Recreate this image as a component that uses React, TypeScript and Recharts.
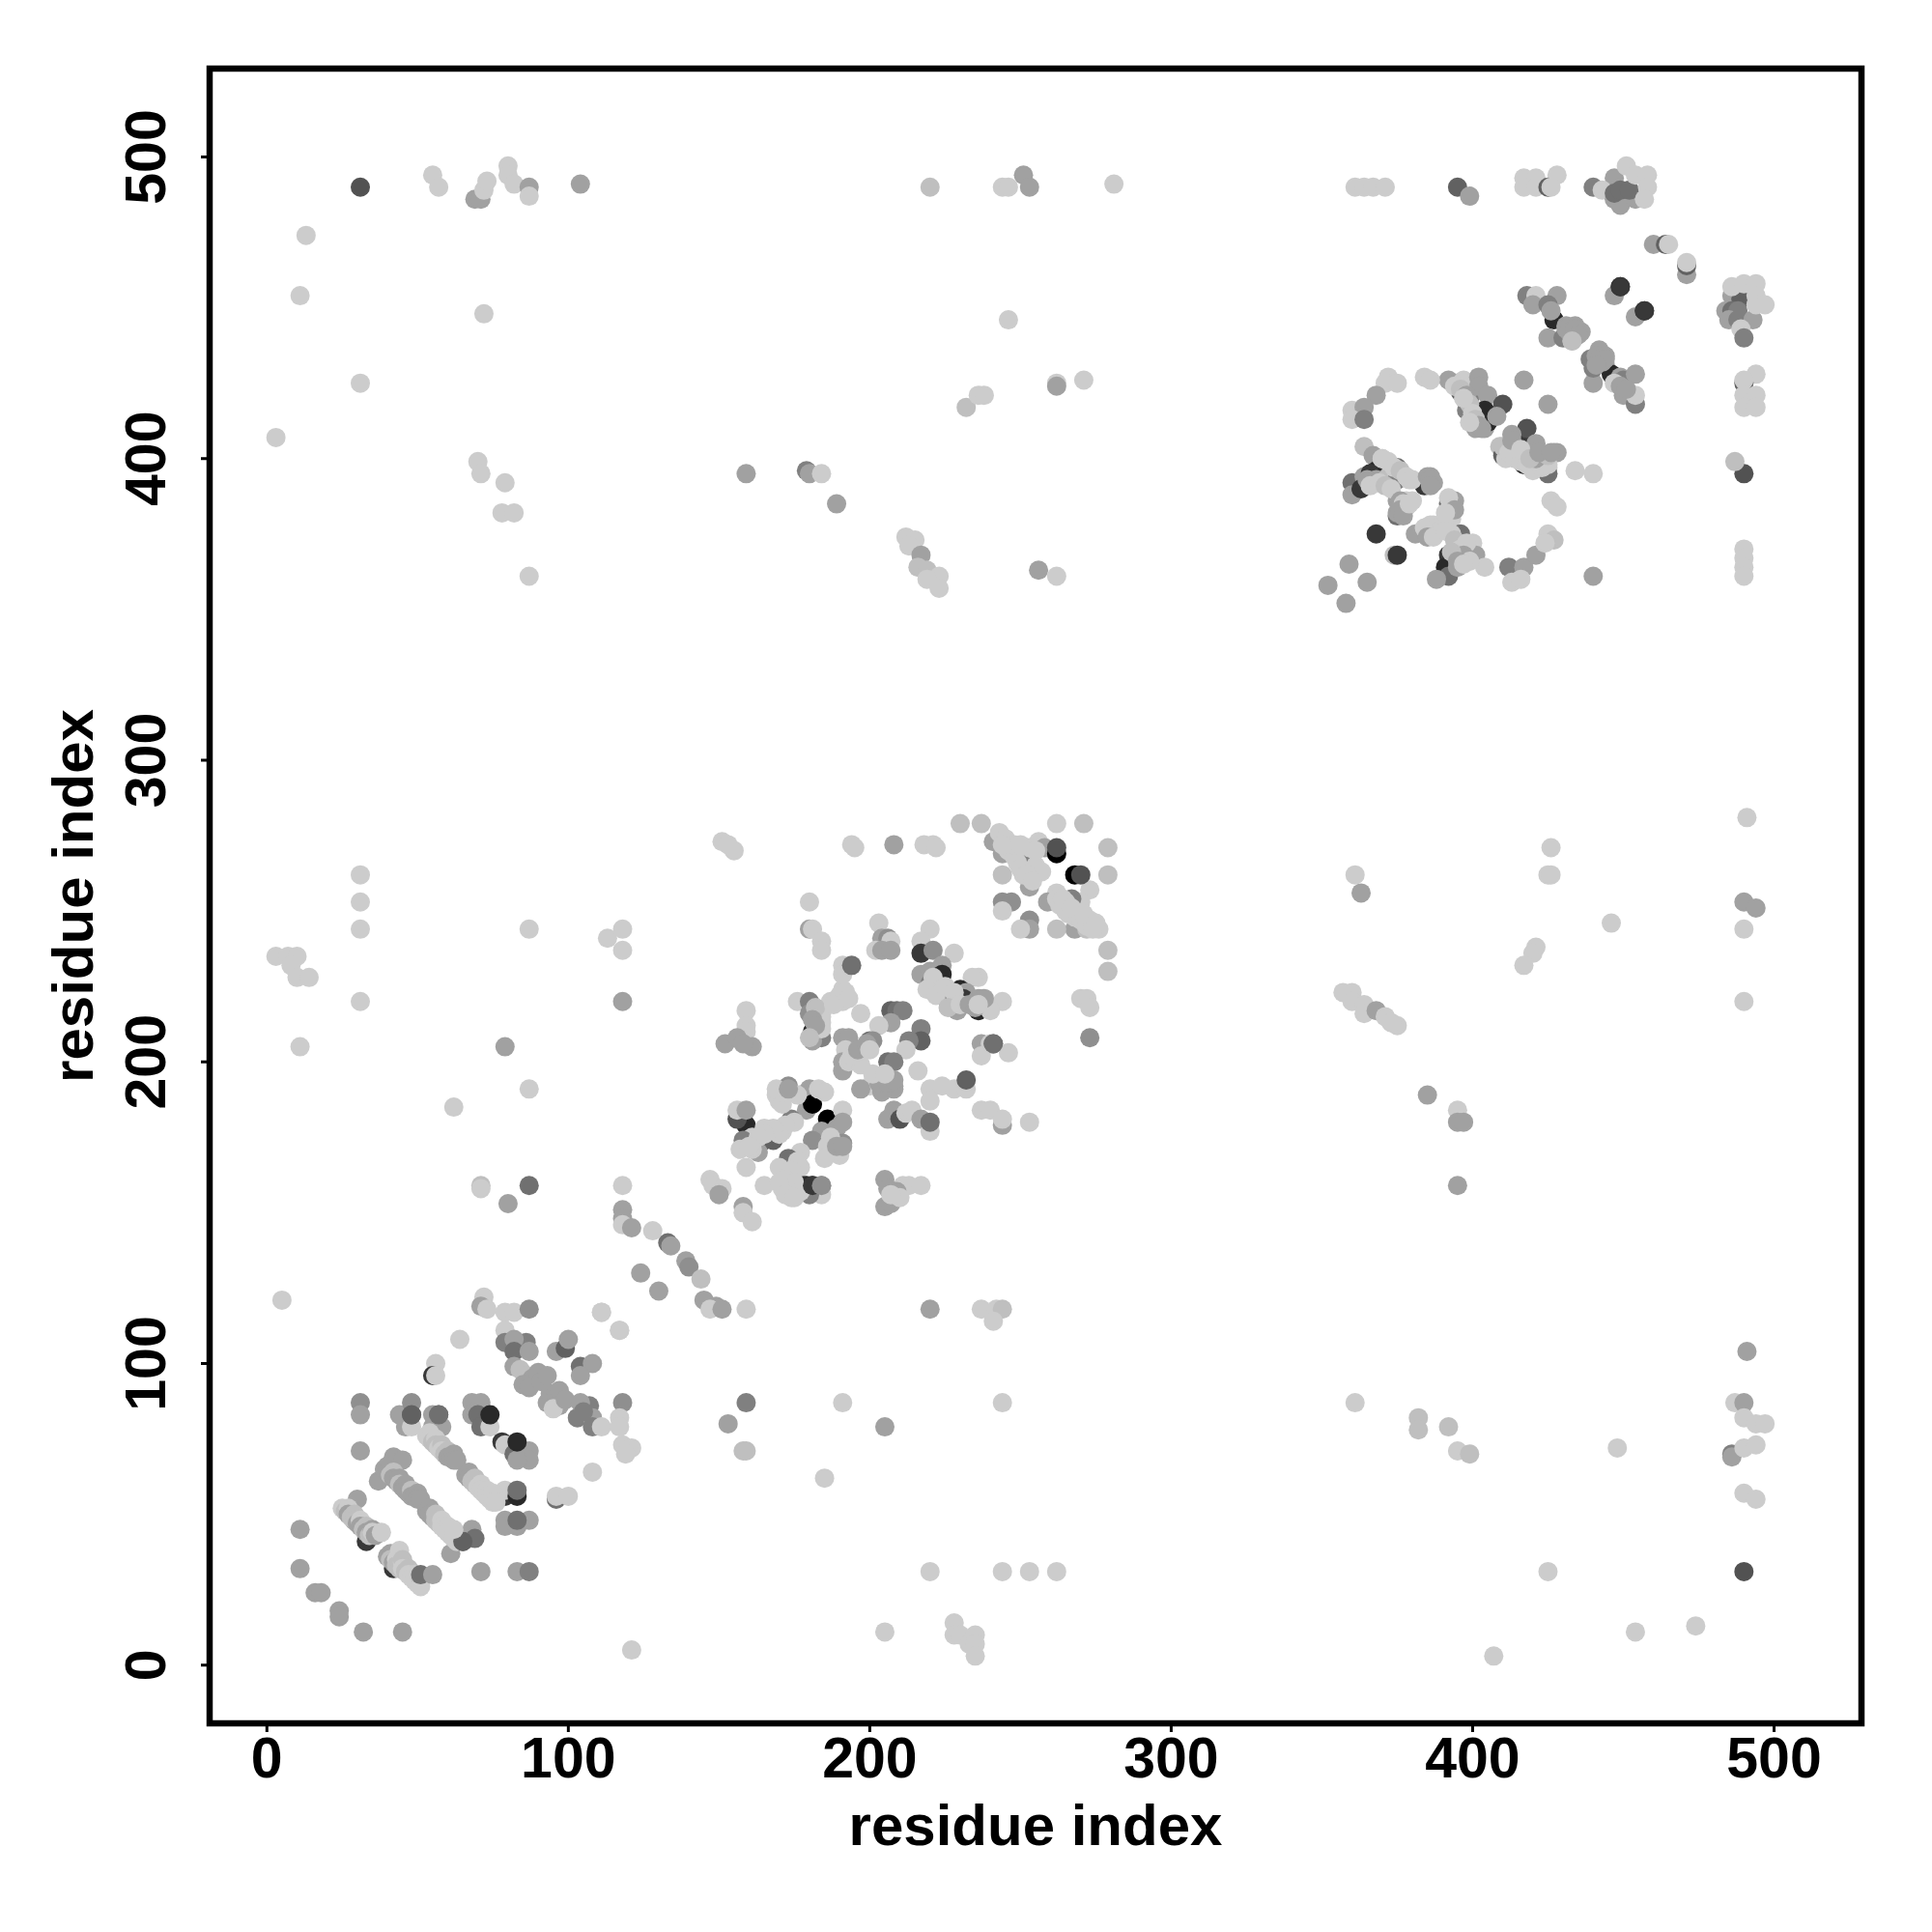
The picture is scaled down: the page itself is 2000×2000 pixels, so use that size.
import { ReferenceArea, Scatter, ScatterChart, XAxis, YAxis } from 'recharts'

type Contact = [number, number, number]

// contact strength, darker marks are stronger
const L = 20
const C = 25
const G = 37
const M = 44
const D = 50
const N = 56
const S = 62
const K = 68
const V = 78
const W = 84
const B = 100

const ticks = [0, 100, 200, 300, 400, 500]

const topBand: Contact[] = [
  [31, 490, K], [55, 494, L], [57, 490, L], [69, 486, G], [71, 486, G], [72, 489, L], [73, 492, L],
  [80, 497, L], [80, 494, L], [82, 491, L], [87, 490, G], [87, 487, L], [104, 491, G],
  [220, 490, C], [244, 490, L], [246, 490, L], [251, 494, G], [253, 490, G], [281, 491, L],
  [361, 490, L], [364, 490, L], [367, 490, L], [371, 490, L], [395, 490, S], [399, 487, G],
  [417, 493, L], [421, 493, L], [417, 490, L], [421, 490, L], [428, 494, L], [425, 490, S], [426, 490, L],
  [440, 490, D], [447, 493, G], [443, 489, L], [447, 486, G], [449, 484, G], [447, 488, N], [449, 489, N],
  [451, 497, L], [454, 486, G], [452, 489, N], [454, 494, L], [458, 494, L], [458, 490, L], [457, 486, L],
  [460, 471, G], [464, 471, S], [465, 471, L], [471, 461, G], [471, 464, S], [471, 465, L],
]

const upperRightColumn: Contact[] = [
  [447, 454, G], [449, 457, V], [454, 447, G], [457, 449, V],
  [484, 449, G], [486, 454, G], [489, 453, S], [486, 449, N], [488, 449, D], [485, 446, G], [488, 446, D],
  [493, 446, G], [489, 443, L], [490, 440, D], [486, 457, L], [490, 458, L], [494, 458, L], [494, 454, L],
  [494, 451, L], [497, 451, L],
  [494, 428, L], [490, 425, S], [490, 426, L], [490, 421, L], [494, 421, L], [490, 417, L], [494, 417, L],
  [490, 395, K], [487, 399, C], [490, 370, L], [490, 367, L], [490, 364, L], [490, 361, L],
  [440, 425, G], [440, 361, G], [434, 396, L], [440, 395, L],
]

const upperRightCluster: Contact[] = [
  [417, 426, G], [425, 418, G], [418, 454, D], [421, 454, L], [420, 451, G], [428, 454, G], [425, 451, D],
  [427, 446, W], [426, 449, G], [425, 440, G], [430, 440, D], [433, 439, L], [431, 444, G], [434, 444, G],
  [436, 442, G], [433, 441, D], [439, 433, D], [440, 430, D], [442, 436, G], [444, 434, G], [444, 431, G],
  [446, 428, W], [449, 427, G], [450, 426, D], [454, 428, G], [450, 421, G], [454, 418, D], [454, 421, L],
  [392, 426, G], [395, 425, G], [397, 426, L], [398, 416, D], [396, 422, S], [399, 420, D],
  [402, 427, G], [402, 424, G], [405, 421, G], [401, 416, L], [404, 416, W], [410, 418, K],
  [401, 410, G], [404, 410, G], [405, 412, W], [408, 414, G],
  [409, 404, C], [410, 401, S], [413, 403, L], [415, 401, W], [417, 405, V], [418, 410, K], [413, 408, G],
  [417, 402, S], [417, 398, W], [421, 405, G], [420, 402, G], [421, 399, V], [425, 397, L], [421, 397, L],
  [425, 395, N], [427, 402, G], [428, 402, G], [411, 400, L],
  [372, 427, L], [371, 425, L], [375, 425, L], [368, 421, G], [360, 416, L], [364, 417, G], [360, 413, L], [364, 413, D],
  [384, 427, L], [386, 426, L],
  [360, 392, N], [360, 388, G], [364, 394, G], [363, 390, V], [364, 404, C], [367, 401, G], [368, 396, W], [366, 395, V],
  [370, 400, L], [368, 393, G], [372, 394, C], [375, 397, N], [375, 393, D], [379, 393, L],
  [384, 391, V], [386, 394, G], [387, 392, G], [375, 386, G], [378, 386, L], [375, 381, N], [375, 382, G], [380, 386, L],
  [392, 385, N], [393, 385, G], [393, 380, L], [386, 378, L], [381, 375, G], [385, 375, G], [384, 377, L],
  [368, 375, V], [374, 368, C], [375, 368, V], [359, 365, G], [365, 359, G], [352, 358, G], [358, 352, G],
  [396, 375, N], [393, 375, L], [400, 372, L], [394, 370, S], [392, 368, V], [401, 368, G], [404, 364, L],
  [394, 364, G], [391, 364, W], [392, 361, N], [388, 360, G],
  [412, 364, D], [417, 364, G], [413, 359, L], [416, 360, L], [421, 368, G], [425, 375, L], [427, 373, C], [424, 372, L],
  [426, 386, L], [428, 384, L],
]

const upperRightFill: Contact[] = [
  [394, 424, L], [396, 423, C], [398, 421, G], [399, 418, C], [400, 415, L], [401, 413, C], [402, 411, G], [403, 410, G], [399, 412, L], [397, 420, L],
  [410, 404, C], [412, 402, L], [414, 400, L], [416, 399, L], [418, 398, L], [420, 396, L], [423, 397, L], [425, 398, L], [421, 400, G], [425, 401, C],
  [413, 406, G], [416, 403, L], [419, 400, C], [422, 402, G], [426, 402, G],
  [370, 400, L], [372, 399, L], [374, 397, L], [376, 396, C], [378, 394, L], [380, 393, L], [365, 393, G], [366, 391, L], [369, 392, L], [371, 391, C], [373, 390, L],
  [385, 394, G], [386, 393, G], [386, 391, G],
  [376, 386, G], [377, 385, L], [378, 384, L], [376, 383, G], [377, 381, G], [379, 385, L],
  [387, 378, L], [388, 377, L], [389, 376, L], [385, 374, G], [387, 374, L], [390, 377, L], [391, 376, L], [394, 386, G], [393, 384, G], [392, 387, L], [394, 383, G], [391, 382, L],
  [394, 373, C], [396, 370, L], [398, 372, L], [397, 368, G], [399, 366, L], [393, 369, C], [395, 366, G], [395, 364, G], [397, 365, L],
  [441, 434, G], [442, 433, G], [443, 432, G], [444, 433, G], [441, 431, G], [447, 425, L], [449, 424, G], [451, 423, G],
  [431, 443, G], [432, 442, G], [434, 443, G], [435, 441, G], [433, 439, C],
]

const upperMiddle: Contact[] = [
  [13, 474, L], [11, 454, L], [72, 448, L], [31, 425, L], [3, 407, L], [70, 399, L], [71, 395, L], [79, 392, L],
  [78, 382, L], [82, 382, L], [87, 361, L], [159, 395, G], [179, 396, D], [180, 395, G], [184, 395, L], [189, 385, G],
  [212, 374, L], [215, 373, L], [213, 371, L], [217, 368, G], [216, 364, C], [219, 363, C], [223, 361, L], [219, 360, L], [223, 357, L],
  [256, 363, G], [262, 361, L], [232, 417, C], [236, 421, L], [238, 421, L], [246, 446, L], [262, 425, L], [262, 424, G], [271, 426, L],
]

const middleBand: Contact[] = [
  [31, 262, L], [31, 253, L], [31, 244, L], [31, 220, L], [3, 235, L], [7, 235, L], [10, 235, L], [8, 232, L], [10, 228, L], [14, 228, L], [11, 205, L],
  [87, 244, L], [79, 205, G], [87, 191, L], [62, 185, L], [71, 159, C], [71, 158, L], [87, 159, N], [80, 153, G],
  [113, 241, L], [118, 244, L], [118, 237, L], [118, 220, G], [118, 159, L], [118, 151, G], [118, 148, G], [118, 146, L], [121, 145, G],
  [128, 144, L], [133, 140, N], [134, 139, G], [139, 134, G], [140, 132, M], [144, 128, C], [145, 121, G], [149, 119, G], [147, 118, L], [151, 118, G], [159, 118, L],
  [5, 121, L], [220, 118, G], [237, 118, L], [242, 118, L], [244, 118, C], [241, 114, L], [111, 117, L], [117, 111, L], [124, 130, G], [130, 124, G],
  [361, 262, L], [363, 256, G], [357, 223, L], [360, 223, L], [360, 220, L], [364, 219, L], [364, 216, L], [368, 217, G], [371, 215, L], [375, 212, L], [373, 213, L],
  [385, 189, G], [395, 184, L], [395, 180, G], [397, 180, G], [395, 159, G],
  [446, 246, L], [426, 271, L], [425, 262, L], [426, 262, L], [421, 238, L], [420, 236, L], [417, 232, L],
  [491, 281, L], [490, 253, G], [494, 251, G], [490, 244, L], [490, 220, L],
]

const centerCluster: Contact[] = [
  [180, 253, L], [180, 244, G], [181, 244, L], [184, 240, L], [184, 237, L], [203, 246, L], [204, 241, G], [206, 241, M], [207, 240, L],
  [202, 237, L], [204, 237, G], [207, 237, G], [220, 244, L], [217, 240, L], [217, 236, V], [221, 237, M], [228, 236, L],
  [217, 229, G], [220, 230, G], [220, 226, D], [224, 232, G], [224, 229, W], [221, 228, L], [236, 228, L], [234, 228, L],
  [226, 220, N], [229, 217, G], [230, 224, W], [232, 223, G], [229, 221, L], [231, 221, V], [236, 217, W], [236, 221, G], [244, 220, L], [240, 217, L],
  [176, 220, L], [180, 220, D], [180, 216, M], [184, 216, L], [184, 213, L], [181, 210, W], [184, 208, D], [181, 207, G],
  [187, 220, L], [191, 224, L], [191, 220, L], [191, 232, L], [191, 229, L],
  [197, 216, L], [207, 217, S], [209, 217, N], [211, 217, D], [207, 213, G], [203, 212, L], [217, 211, D], [217, 207, S], [213, 207, D], [212, 204, L],
  [191, 208, G], [193, 208, G], [200, 207, N], [201, 207, M], [192, 204, L], [191, 200, G], [191, 197, G], [196, 202, G], [193, 200, L],
  [206, 200, N], [208, 200, D], [216, 197, L], [202, 194, G], [200, 192, L], [197, 191, G], [204, 194, G], [208, 192, G], [208, 191, G],
  [237, 206, G], [240, 206, L], [241, 206, N], [237, 202, L], [246, 203, L],
  [220, 191, L], [224, 192, L], [228, 191, L], [232, 191, L], [220, 187, L], [237, 184, L], [240, 184, L], [244, 179, G], [244, 181, L], [253, 180, L],
  [208, 184, G], [206, 181, G], [210, 181, K], [212, 183, L], [214, 184, L], [217, 181, G], [220, 177, L],
  [159, 217, L], [159, 212, L], [159, 210, L], [152, 206, G], [156, 208, G], [161, 205, G], [158, 206, G],
  [169, 189, L], [173, 192, M], [180, 191, G], [177, 189, G], [179, 184, G], [181, 186, B], [183, 191, L],
  [159, 179, W], [156, 181, K], [156, 184, L], [159, 184, G], [165, 178, L], [174, 181, D], [171, 177, L], [168, 174, S], [165, 174, S],
  [163, 170, G], [161, 175, L], [158, 174, D], [157, 171, L],
  [186, 181, B], [191, 184, L], [184, 177, G], [189, 178, G], [191, 180, G], [181, 174, M], [191, 173, M], [187, 170, L], [190, 169, L], [177, 170, L], [173, 168, N],
  [170, 165, L], [171, 158, L], [174, 155, L], [177, 165, L], [174, 162, L], [173, 159, S], [178, 159, S], [179, 159, W], [181, 159, V], [184, 159, M], [184, 156, L], [180, 156, D],
  [159, 165, L], [165, 159, L], [147, 161, L], [148, 159, L], [151, 158, L], [150, 156, G], [158, 152, G], [158, 150, L], [161, 147, L],
  [205, 161, G], [208, 155, G], [205, 152, G], [211, 159, L], [213, 159, L], [217, 159, L],
]

const centerFill: Contact[] = [
  [176, 189, L], [170, 187, L], [171, 186, L], [169, 191, L], [171, 190, L], [173, 191, G],
  [175, 180, L], [172, 179, L], [170, 176, L], [168, 178, L], [165, 176, L], [163, 175, L], [161, 171, L], [160, 172, L],
  [185, 190, L], [187, 175, L], [186, 172, L], [188, 170, L], [185, 168, L], [189, 172, G], [191, 172, G],
  [176, 167, L], [174, 164, L], [172, 161, L], [175, 160, L], [177, 157, L], [170, 160, L], [172, 156, L], [175, 155, L],
  [197, 199, L], [194, 202, L], [196, 204, G], [199, 206, G], [200, 204, L], [204, 190, G], [203, 193, G], [206, 193, G], [201, 196, L], [208, 194, G], [205, 196, L],
  [184, 215, L], [182, 218, C], [181, 214, G], [184, 211, L], [182, 212, G], [180, 208, C], [190, 222, L], [188, 219, L], [192, 223, L], [193, 221, L],
  [219, 224, L], [222, 222, L], [225, 225, L], [228, 223, L], [226, 218, C], [230, 219, L], [233, 219, G], [235, 218, G], [238, 221, G], [236, 219, L],
  [207, 153, G], [209, 157, G], [206, 158, G], [210, 155, L], [207, 156, L],
]

const hingeCluster: Contact[] = [
  [230, 279, C], [237, 279, C], [262, 279, L], [271, 279, C], [279, 271, C], [279, 262, C], [244, 262, C], [279, 237, C], [279, 230, C],
  [241, 273, G], [244, 269, G], [243, 276, L], [245, 274, L], [247, 272, L], [250, 269, L], [253, 269, D], [253, 271, L], [256, 273, L], [258, 271, G],
  [262, 269, B], [255, 265, L], [257, 263, L], [253, 258, G], [251, 262, L],
  [268, 262, B], [273, 257, L], [270, 253, L], [267, 254, D], [262, 256, L], [259, 253, G], [265, 253, L],
  [268, 244, G], [272, 244, C], [276, 244, L], [273, 247, L], [269, 249, C],
  [244, 253, M], [247, 253, M], [244, 250, L], [253, 247, M], [253, 244, G], [250, 244, L], [262, 244, C],
  [270, 221, L], [272, 221, L], [273, 218, L], [273, 208, M],
  [151, 273, L], [153, 272, L], [155, 270, L], [194, 272, L], [195, 271, L], [208, 272, G], [218, 272, L], [221, 272, L], [222, 271, L],
  [246, 270, L], [248, 268, L], [249, 266, L], [250, 264, L], [248, 272, L], [244, 272, L], [252, 262, L], [254, 260, L], [250, 272, L], [255, 270, L],
  [262, 254, L], [263, 252, L], [265, 250, L], [266, 249, L], [268, 248, L], [270, 247, L], [272, 245, L], [264, 254, L], [267, 251, L], [274, 244, L], [271, 249, L], [275, 246, L],
]

const lowerLeftCluster: Contact[] = [
  [72, 122, L], [71, 119, G], [73, 118, L], [79, 117, L], [82, 117, L], [87, 118, M], [79, 111, L], [79, 107, D], [86, 107, D], [82, 108, G], [82, 104, N], [87, 104, G],
  [111, 117, L], [117, 111, L], [64, 108, L], [56, 100, L], [55, 96, V], [56, 96, L],
  [96, 104, G], [99, 105, S], [100, 108, G], [104, 99, N], [108, 100, G], [104, 96, G], [107, 86, D], [103, 82, D],
  [108, 82, G], [108, 79, D], [111, 79, L], [118, 87, M], [117, 82, L], [117, 79, L], [118, 73, L], [121, 72, L], [119, 70, L], [108, 64, L], [96, 55, N], [96, 56, L], [100, 56, L],
  [31, 87, M], [31, 83, G], [31, 71, G], [30, 55, G], [11, 45, G], [11, 32, G], [16, 24, G], [18, 24, G], [24, 18, G], [24, 16, G], [32, 11, G], [45, 11, G],
  [46, 79, G], [44, 83, G], [48, 79, L], [48, 83, S], [48, 87, M],
  [55, 83, G], [57, 83, N], [55, 79, G], [58, 79, G],
  [68, 87, G], [71, 87, G], [68, 83, G], [70, 83, N], [71, 79, N], [74, 79, L],
  [78, 74, V], [79, 73, L], [82, 70, N], [87, 71, G], [87, 68, G], [83, 68, G],
  [42, 69, G], [45, 68, G], [37, 61, G],
  [79, 56, V], [79, 58, L], [83, 56, W],
  [79, 48, G], [79, 46, G], [83, 46, G], [87, 48, G],
  [68, 45, G], [65, 41, S], [61, 37, G],
  [33, 41, V], [42, 32, V], [29, 48, N],
  [71, 31, G], [83, 31, G], [87, 31, D],
]

const lowerLeftStripes: Contact[] = [
  [25, 52, L], [26, 51, C], [27, 52, L], [27, 50, G], [28, 49, C], [29, 50, C], [29, 48, C], [30, 47, G], [31, 48, L], [31, 46, G], [32, 45, C], [33, 46, C], [33, 44, G], [34, 43, C], [35, 45, G], [35, 44, L], [36, 43, G], [38, 44, L],
  [40, 36, G], [41, 37, G], [41, 35, C], [42, 34, G], [43, 35, L], [43, 33, C], [44, 38, L], [44, 32, C], [45, 34, L], [45, 35, C], [45, 32, L], [46, 31, C], [47, 32, C], [47, 30, L], [48, 29, L], [49, 30, L], [49, 28, L], [50, 27, L], [51, 29, C], [51, 26, L],
  [39, 65, G], [40, 66, G], [40, 64, G], [41, 63, C], [42, 64, C], [42, 62, G], [43, 61, G], [44, 62, G], [44, 60, C], [45, 59, G], [46, 60, G], [46, 58, G], [47, 57, G], [48, 58, C], [48, 56, G], [49, 56, G], [50, 57, G], [50, 55, G], [51, 55, G],
  [53, 51, G], [54, 52, G], [54, 50, G], [55, 49, G], [56, 50, C], [56, 48, C], [57, 47, C], [58, 48, L], [58, 46, L], [59, 45, L], [60, 46, L], [60, 44, L], [61, 43, L], [62, 44, L], [62, 42, L], [63, 41, L],
  [53, 76, L], [54, 77, L], [54, 75, L], [55, 74, C], [56, 75, L], [56, 73, C], [57, 72, L], [58, 73, C], [58, 71, L], [59, 70, C], [60, 71, C], [60, 69, G], [61, 69, G], [62, 70, G], [62, 68, G], [63, 68, G],
  [66, 63, G], [67, 64, G], [67, 62, G], [68, 61, C], [69, 62, C], [69, 60, C], [70, 59, L], [71, 60, L], [71, 58, L], [72, 57, L], [73, 58, L], [73, 56, L], [74, 55, L], [75, 57, L], [75, 54, L], [76, 54, L],
  [82, 99, G], [84, 98, C], [86, 96, C], [88, 95, G], [90, 97, G], [85, 93, G], [87, 92, G], [91, 94, G], [93, 96, G],
  [93, 87, G], [94, 90, G], [96, 90, G], [97, 91, G], [97, 86, G], [95, 85, L], [99, 88, G], [104, 87, G], [105, 84, D],
]

const lowerRight: Contact[] = [
  [191, 87, L], [159, 87, D], [153, 80, G], [205, 79, G], [185, 62, L], [158, 71, C], [159, 71, C],
  [244, 87, L], [361, 87, L], [382, 82, C], [382, 78, C], [392, 79, C], [395, 71, L], [399, 70, C], [448, 72, L],
  [486, 70, D], [486, 69, G], [490, 72, L], [494, 73, L], [487, 87, L], [490, 87, G], [490, 82, L], [494, 80, L], [497, 80, L], [491, 104, G],
  [490, 57, L], [494, 55, L], [490, 31, K], [425, 31, L], [454, 11, L], [474, 13, L], [407, 3, L], [121, 5, L],
  [220, 31, L], [244, 31, L], [253, 31, L], [262, 31, L], [205, 11, L], [228, 14, L], [228, 10, L], [230, 10, L], [233, 7, L], [235, 10, L], [235, 7, L], [235, 3, L],
]

// dark contacts that sit on top of their neighbours
const strongContacts: Contact[] = [
  [74, 83, W], [83, 74, W], [48, 83, S], [83, 58, N], [83, 48, N], [57, 83, N], [69, 42, N], [65, 41, S], [51, 30, N], [55, 30, G], [62, 45, L],
  [194, 232, N], [232, 194, S], [220, 180, N], [241, 206, N], [262, 271, K], [270, 262, K], [449, 457, V], [457, 449, V],
  [181, 159, V], [184, 159, M],
]

const seriesList = [
  topBand,
  upperMiddle,
  middleBand,
  lowerRight,
  upperRightColumn,
  upperRightCluster,
  upperRightFill,
  centerCluster,
  centerFill,
  hingeCluster,
  lowerLeftCluster,
  lowerLeftStripes,
  strongContacts,
]

const toRows = (list: Contact[]) => list.map(([x, y, strength]) => ({ x, y, strength }))

const ContactDot = (props: any) => {
  const level = Math.round(255 * (1 - props.payload.strength / 100))
  return <circle cx={props.cx} cy={props.cy} r={10} fill={`rgb(${level},${level},${level})`} />
}

const tickFont = { fontFamily: 'Liberation Sans', fontWeight: 700, fontSize: 59, fill: '#000' }
const titleFont = { ...tickFont, fontSize: 60 }

const XTick = ({ x, payload }: any) => (
  <text x={x} y={1840} textAnchor="middle" {...tickFont}>
    {payload.value}
  </text>
)

const YTick = ({ y, payload }: any) => (
  <text transform={`translate(171,${y}) rotate(-90)`} textAnchor="middle" {...tickFont}>
    {payload.value}
  </text>
)

export default function App() {
  return (
    <div style={{ position: 'absolute', left: 0, top: 0, width: 2000, height: 2000, background: '#fff' }}>
      <ScatterChart width={2000} height={2000} margin={{ top: 71, right: 73, left: 0, bottom: 0 }}>
        <XAxis
          type="number"
          dataKey="x"
          domain={[-19, 529]}
          ticks={ticks}
          height={216}
          tick={<XTick />}
          tickSize={9}
          tickLine={{ stroke: '#000', strokeWidth: 3 }}
          axisLine={false}
          label={{ value: 'residue index', position: 'insideBottom', offset: 90, ...titleFont }}
          allowDataOverflow
        />
        <YAxis
          type="number"
          dataKey="y"
          domain={[-19.3, 529.3]}
          ticks={ticks}
          width={217}
          tick={<YTick />}
          tickSize={9}
          tickLine={{ stroke: '#000', strokeWidth: 3 }}
          axisLine={false}
          label={{ value: 'residue index', angle: -90, position: 'insideLeft', offset: 75, ...titleFont, style: { textAnchor: 'middle' } }}
          allowDataOverflow
        />
        {seriesList.map((list, i) => (
          <Scatter key={i} data={toRows(list)} shape={<ContactDot />} isAnimationActive={false} />
        ))}
        <ReferenceArea x1={-19} x2={529} y1={-19.3} y2={529.3} fill="none" stroke="#000" strokeWidth={6.5} ifOverflow="visible" />
      </ScatterChart>
    </div>
  )
}
